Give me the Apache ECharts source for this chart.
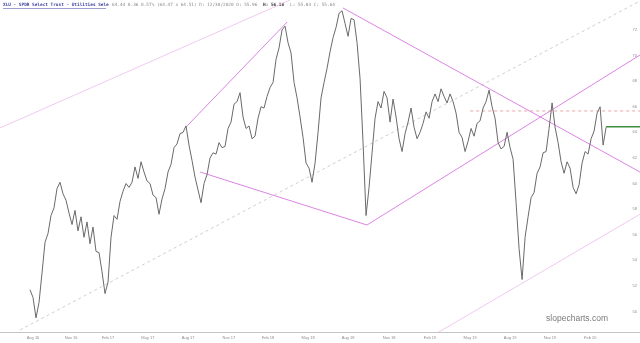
<!DOCTYPE html>
<html>
<head>
<meta charset="utf-8">
<script src="https://cdn.jsdelivr.net/npm/echarts@6.0.0/dist/echarts.min.js"></script>
<style>
  html, body { margin: 0; padding: 0; background: #fff; }
  #chart { width: 640px; height: 343px; }
</style>
</head>
<body>
<div id="chart"></div>
<script>
// bar index of the first price point (x axis counts bars)
const firstBar = 10;
const prices = [
  51.7, 51.1, 49.5, 50.7, 53.0, 55.4, 56.1, 57.5, 58.1, 59.6,
  60.1, 59.2, 58.7, 57.7, 56.8, 57.9, 56.3, 57.4, 55.8, 57.0,
  55.3, 56.6, 54.7, 54.6, 53.1, 51.4, 52.3, 55.8, 57.5, 57.2,
  58.6, 59.4, 60.0, 59.7, 60.1, 61.3, 60.4, 61.7, 60.9, 60.2,
  60.0, 59.1, 58.9, 57.6, 58.8, 59.6, 60.9, 61.5, 62.8, 63.1,
  63.9, 64.0, 64.5, 63.0, 61.8, 60.5, 59.5, 58.5, 60.0, 60.7,
  62.0, 62.4, 62.3, 63.2, 62.8, 62.9, 64.3, 64.8, 66.2, 66.4,
  67.1, 65.2, 64.3, 64.5, 63.5, 63.7, 65.1, 66.0, 65.9, 66.8,
  67.5, 67.9, 69.7, 70.6, 72.0, 72.3, 71.0, 70.2, 67.9, 66.7,
  65.2, 63.6, 61.6, 61.2, 60.1, 61.6, 64.0, 66.7, 67.9, 69.0,
  70.3, 71.4, 72.2, 73.3, 73.5, 72.5, 71.5, 72.9, 72.8, 71.0,
  68.2, 63.2, 57.5, 59.7, 62.4, 65.1, 66.4, 65.9, 67.2, 66.7,
  64.8, 66.6, 65.2, 63.5, 62.5, 63.9, 64.8, 65.9, 64.4, 63.5,
  64.0, 64.7, 65.6, 65.1, 66.4, 67.0, 66.4, 67.4, 66.8, 66.3,
  67.0, 66.4, 65.5, 64.0, 63.6, 62.5, 63.3, 64.3, 63.7, 64.7,
  64.9, 65.9, 66.4, 67.3, 66.0, 65.1, 63.2, 62.7, 62.9, 64.0,
  62.8, 61.9, 58.5, 54.9, 52.5, 55.8, 57.4, 58.9, 59.3, 60.8,
  61.3, 62.4, 62.5, 64.3, 66.3, 64.4, 63.2, 61.7, 60.8, 61.7,
  61.2, 59.7, 59.2, 59.9, 61.6, 62.5, 62.3, 63.5, 64.1, 65.5,
  66.0, 63.0, 64.4
];
const lastPrice = 64.44;

const xTickBars = [11, 23.7, 36, 49.3, 62.7, 76.3, 89.3, 102.7, 116, 129.7, 143.3, 156.7, 170, 183.3, 196.7];
const xTickLabels = ['Aug 16', 'Nov 16', 'Feb 17', 'May 17', 'Aug 17', 'Nov 17', 'Feb 18', 'May 18',
  'Aug 18', 'Nov 18', 'Feb 19', 'May 19', 'Aug 19', 'Nov 19', 'Feb 20'];
const yTicks = [50, 52, 54, 56, 58, 60, 62, 64, 66, 68, 70, 72];

// drawn trend lines: [bar1, price1, bar2, price2]
const channelLines = [[0, 64.34, 96.7, 74.34], [140, 47.54, 213.3, 57.6]];
const midLine = [6.7, 48.56, 213.3, 74.26];
const wedgeLines = [
  [61.7, 64.34, 95.7, 72.62],
  [66.7, 60.9, 122.3, 56.76],
  [122.3, 56.76, 213.3, 70.04],
  [114.3, 73.72, 213.3, 60.9]
];
const levelLine = [156.7, 65.67, 213.3, 65.67];
const priceLine = [202, lastPrice, 213.3, lastPrice];

const chart = echarts.init(document.getElementById('chart'));

function seg(l, color, width, type) {
  return {
    type: 'line',
    data: [[l[0], l[1]], [l[2], l[3]]],
    showSymbol: false,
    silent: true,
    animation: false,
    lineStyle: { color: color, width: width, type: type || 'solid' }
  };
}

const series = [];
channelLines.forEach(l => series.push(seg(l, '#ebbdec', 0.8)));
series.push(seg(midLine, '#cfcfcf', 1, [3, 3]));
wedgeLines.forEach(l => series.push(seg(l, '#dc84e4', 1)));
series.push(seg(levelLine, '#f0a4a4', 1, [3, 3]));
series.push({
  type: 'line',
  data: prices.map((v, i) => [firstBar + i, v]),
  showSymbol: false,
  silent: true,
  animation: false,
  lineStyle: { color: '#6a6a6a', width: 1 }
});
series.push(seg(priceLine, '#3d8d3d', 1.5));

const titleFont = '4.4px "DejaVu Sans Mono"';

chart.setOption({
  backgroundColor: '#fff',
  animation: false,
  grid: { left: 0, right: 0, top: 0, bottom: 11 },
  graphic: [
    { type: 'text', left: 3, top: 3, style: { text: 'XLU - SPDR Select Trust - Utilities Sele', fill: '#3b3fa0', font: 'bold ' + titleFont } },
    { type: 'line', shape: { x1: 3, y1: 8.5, x2: 106, y2: 8.5 }, style: { stroke: '#3b3fa0', lineWidth: 0.5 } },
    { type: 'text', left: 112, top: 3, style: { text: '64.44 0.36 0.57% (64.47 x 64.51) D: 12/30/2020 O: 55.96', fill: '#8a8a8a', font: titleFont } },
    { type: 'text', left: 263, top: 3, style: { text: 'H: 56.18', fill: '#333', font: 'bold ' + titleFont } },
    { type: 'text', left: 290, top: 3, style: { text: 'L: 55.83 C: 55.64', fill: '#8a8a8a', font: titleFont } },
    {
      type: 'text', right: 32, top: 314,
      style: { text: 'slopecharts.com', fill: '#7a7a7a', font: '8.5px "Liberation Sans"' }
    }
  ],
  xAxis: {
    type: 'value',
    min: 0,
    max: 213.3,
    axisLine: { show: true, lineStyle: { color: '#c4c4c4', width: 1 } },
    axisTick: { show: false },
    splitLine: { show: false },
    axisLabel: {
      customValues: xTickBars,
      formatter: v => {
        const i = xTickBars.findIndex(b => Math.abs(b - v) < 0.01);
        return i >= 0 ? xTickLabels[i] : '';
      },
      fontSize: 4,
      color: '#8c8c8c',
      margin: 4
    }
  },
  yAxis: {
    type: 'value',
    position: 'right',
    min: 48.4,
    max: 74.34,
    axisLine: { show: false },
    axisTick: { show: false },
    splitLine: { show: false },
    axisLabel: {
      inside: true,
      customValues: yTicks,
      fontSize: 4,
      color: '#8c8c8c',
      margin: 3
    }
  },
  series: series
});
</script>
</body>
</html>
